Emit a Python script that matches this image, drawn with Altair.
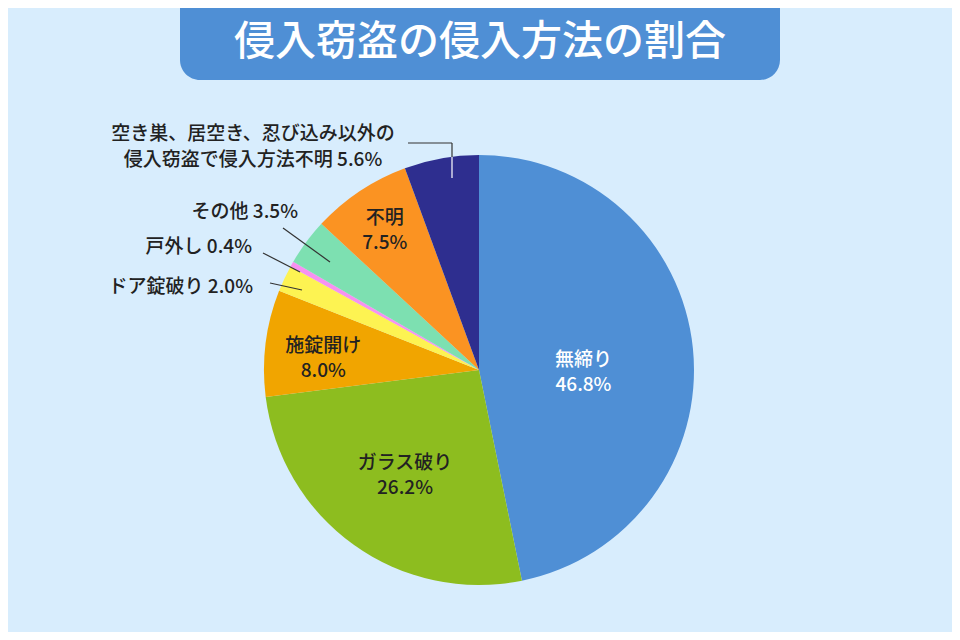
import altair as alt
import pandas as pd

TITLE = "侵入窃盗の侵入方法の割合"
categories = ["無締り", "ガラス破り", "施錠開け", "ドア錠破り", "戸外し", "その他", "不明",
              "空き巣、居空き、忍び込み以外の侵入窃盗で侵入方法不明"]
values = [46.8, 26.2, 8.0, 2.0, 0.4, 3.5, 7.5, 5.6]
label_names = ["無締り", "ガラス破り", "施錠開け", "ドア錠破り", "戸外し", "その他", "不明",
               "空き巣、居空き、忍び込み以外の\n侵入窃盗で侵入方法不明"]
colors = ["#4f8fd5", "#8dbd1f", "#f1a500", "#fdf352", "#f791f0", "#7de0b1", "#fb9322", "#2e2e8f"]

labels = []
for i, (n, v) in enumerate(zip(label_names, values)):
    if i in (0, 1, 2, 6):
        labels.append(f"{n}\n{v:.1f}%")
    else:
        labels.append(f"{n} {v:.1f}%")

df = pd.DataFrame({"idx": list(range(len(categories))), "cat": categories,
                   "value": values, "label": labels})

FONT = "Noto Sans CJK JP"
CX, CY, R = 471, 362, 215
W, H = 944, 624
FW = 500

arc = alt.Chart(df).mark_arc(x=CX, y=CY, outerRadius=R).encode(
    theta=alt.Theta("value:Q", stack=True),
    order=alt.Order("idx:Q"),
    color=alt.Color("cat:N", scale=alt.Scale(domain=categories, range=colors), legend=None),
)


def inner_text(cat, r, dy, color):
    return alt.Chart(df).mark_text(
        x=CX, y=CY, radius=r, dy=dy, fontSize=19, lineBreak="\n", lineHeight=25,
        align="center", baseline="middle", font=FONT, fontWeight=FW, color=color,
    ).encode(
        theta=alt.Theta("value:Q", stack=True),
        order=alt.Order("idx:Q"),
        text=alt.condition(alt.datum.cat == cat, "label:N", alt.value("")),
    )


inner_layers = [
    inner_text("無締り", 105, 1, "white"),
    inner_text("ガラス破り", 127, -10, "#222222"),
    inner_text("施錠開け", 157, -4, "#222222"),
    inner_text("不明", 170, -11, "#222222"),
]


def outer_text(cat, x, y, align):
    return alt.Chart(df).transform_filter(alt.datum.cat == cat).mark_text(
        fontSize=19, lineBreak="\n", lineHeight=26, align=align, baseline="middle",
        font=FONT, fontWeight=FW, color="#222222",
    ).encode(x=alt.value(x), y=alt.value(y), text="label:N")


outer_layers = [
    outer_text(categories[7], 245, 126, "center"),
    outer_text("その他", 290, 204, "right"),
    outer_text("戸外し", 244, 239, "right"),
    outer_text("ドア錠破り", 245, 279, "right"),
]

seg = pd.DataFrame({"k": [0]})


def line(x1, y1, x2, y2, color="#333333"):
    return alt.Chart(seg).mark_rule(color=color, strokeWidth=1.2).encode(
        x=alt.value(x1), y=alt.value(y1), x2=alt.value(x2), y2=alt.value(y2))


lines = [
    line(275, 220, 322, 254),
    line(255, 245, 292, 264),
    line(262, 275, 294, 282),
    line(400, 135, 444, 135),
    line(444, 135, 444, 149),
    line(444, 149, 444, 170, "white"),
]

tdf = pd.DataFrame({"t": [TITLE]})
title_box = alt.Chart(tdf).mark_rect(
    color="#4f8fd5", cornerRadiusBottomLeft=20, cornerRadiusBottomRight=20
).encode(x=alt.value(172), x2=alt.value(772), y=alt.value(0), y2=alt.value(72))
title_text = alt.Chart(tdf).mark_text(
    fontSize=41, font=FONT, fontWeight=FW, color="white", align="center", baseline="middle"
).encode(x=alt.value(472), y=alt.value(35), text="t:N")

chart = alt.layer(arc, *inner_layers, *outer_layers, *lines, title_box, title_text).properties(
    width=W, height=H, padding=0, autosize=alt.AutoSizeParams(type="none")
).configure(background="#d8edfd").configure_view(stroke=None)

chart.save("out.html", embed_options={"renderer": "svg", "actions": False})
